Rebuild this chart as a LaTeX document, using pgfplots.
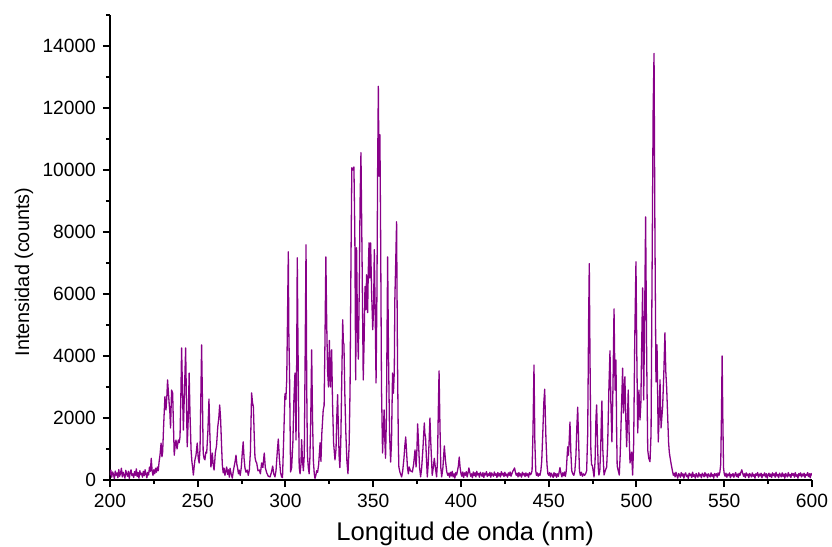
\documentclass[border=0pt]{standalone}
\usepackage{fontspec}
\setmainfont{Liberation Sans}
\usepackage{pgfplots}
\usepackage{pgfplotstable}
\pgfplotsset{compat=1.18}
\definecolor{spec}{RGB}{136,0,136}
\pgfplotstableread{
x y
200.0 150
200.5 320
201.0 90
201.5 260
202.0 180
202.5 40
203.0 290
203.5 150
204.0 230
204.5 70
205.0 340
205.5 120
206.0 210
206.5 380
207.0 100
207.5 250
208.0 160
208.5 60
209.0 310
209.5 190
210.0 120
210.5 280
211.0 50
211.5 230
212.0 330
212.5 140
213.0 200
213.5 80
214.0 270
214.5 150
215.0 360
215.5 110
216.0 240
216.5 60
217.0 300
217.5 170
218.0 220
218.5 90
219.0 280
219.5 140
220.0 330
220.5 190
221.0 70
221.5 250
222.0 160
222.5 420
223.0 280
223.5 700
224.0 300
224.5 150
225.0 330
225.5 200
226.0 380
226.5 250
227.0 420
227.5 300
228.0 600
228.5 800
229.1 1190
229.6 750
230.0 900
230.6 1800
231.3 2690
231.9 2260
232.4 2700
232.8 3230
233.2 2900
233.7 2480
234.1 2200
234.5 1680
235.1 2900
235.7 2800
236.1 1900
236.6 800
237.1 1100
237.6 1290
238.2 1000
238.9 1290
239.4 1200
239.9 1390
240.4 2800
240.8 4260
241.3 2900
241.8 1610
242.4 2800
243.1 4260
243.6 2400
244.0 1070
244.6 2000
245.1 3450
245.6 2100
246.2 970
246.7 580
247.1 400
247.5 160
248.0 450
248.4 650
249.0 800
249.7 1190
250.3 700
250.8 550
251.3 1000
251.8 2800
252.2 4360
252.7 2500
253.1 870
253.6 700
254.1 650
254.6 900
255.1 870
255.8 1600
256.4 2610
256.9 1500
257.5 420
257.9 600
258.3 870
258.8 500
259.3 320
259.7 600
260.0 870
260.7 1100
261.4 1710
262.0 2000
262.5 2420
263.0 2000
263.6 1070
264.0 500
264.5 230
265.0 380
265.5 150
266.0 300
266.5 420
267.0 180
267.5 330
268.0 90
268.4 380
269.0 200
269.7 60
270.3 300
270.8 450
271.3 600
271.8 800
272.3 500
272.7 390
273.2 200
273.6 320
274.2 150
274.8 400
275.4 900
275.9 1230
276.4 700
276.9 390
277.5 250
278.2 320
278.8 150
279.4 320
280.0 900
280.4 2000
280.7 2810
281.2 2500
281.7 2360
282.2 1400
282.6 740
283.1 600
283.6 550
284.3 300
285.1 320
285.7 200
286.4 550
287.1 400
287.9 870
288.5 400
289.3 230
290.2 120
291.2 100
292.0 250
292.7 450
293.3 200
294.0 100
294.6 300
295.3 900
295.9 1320
296.5 700
297.2 230
297.8 100
298.3 80
298.9 1200
299.7 2780
300.2 2600
300.7 3230
301.1 5000
301.6 7360
301.9 4750
302.3 3450
302.9 260
303.5 400
304.2 1200
304.8 2600
305.4 3450
306.0 1290
306.4 4000
306.7 7170
307.1 4500
307.8 420
308.3 200
308.8 500
309.2 1300
309.7 600
310.2 300
310.7 800
311.2 4000
311.7 7590
312.1 3000
312.5 800
313.0 400
313.5 200
313.9 700
314.4 2000
314.9 4200
315.4 2000
315.9 600
316.4 200
316.8 50
317.3 150
317.8 300
318.3 250
318.9 500
319.7 1200
320.2 600
320.7 1500
321.5 2260
322.0 2400
322.5 4500
323.0 7200
323.5 5000
324.0 3500
324.5 3000
325.0 4500
325.6 3000
326.3 4200
326.8 2500
327.4 1200
328.2 650
328.8 1000
329.2 2000
329.7 2750
330.2 1500
330.6 700
331.0 400
331.5 1200
332.0 3000
332.6 5170
333.0 4400
333.3 4400
333.8 2800
334.4 1500
335.0 600
335.6 200
335.8 480
336.3 1200
336.8 3000
337.3 7000
337.8 10070
338.4 10000
339.0 10100
339.5 8000
340.0 3230
340.5 7490
341.0 5000
341.5 3900
342.0 6000
342.5 9000
343.0 10560
343.6 7330
344.3 3230
344.8 4500
345.3 6240
345.8 5500
346.2 6620
346.8 5400
347.2 6800
347.6 7650
348.0 6520
348.5 7650
349.1 6000
349.7 4850
350.2 5500
350.6 7430
351.1 5500
351.6 3130
352.1 6000
352.5 10000
352.9 12700
353.3 9800
353.8 11140
354.2 8000
354.7 3000
355.3 870
355.7 1500
356.2 2260
356.6 1300
357.0 700
357.5 2000
357.9 5000
358.2 7200
358.7 4000
359.3 1500
359.9 580
360.4 1200
361.0 3450
361.5 2800
362.0 3500
362.3 5800
362.8 7000
363.3 8330
363.8 4000
364.3 1200
364.6 420
365.2 250
366.2 100
366.8 300
367.5 700
368.0 1100
368.5 1390
369.0 900
369.5 400
370.0 200
370.5 420
371.2 300
372.3 260
373.0 500
373.8 970
374.4 420
374.9 1000
375.3 1810
375.8 1200
376.4 400
377.0 100
377.6 400
378.3 1000
379.1 1840
379.4 1500
379.8 1390
380.3 700
380.8 100
381.3 500
381.8 1200
382.3 2000
382.8 1200
383.6 150
384.2 400
384.8 700
385.4 400
386.1 100
386.6 600
387.0 2000
387.5 3520
388.0 1800
388.5 400
389.0 100
389.7 400
390.5 1100
391.2 600
391.9 260
392.5 150
393.0 220
393.5 90
394.0 250
394.5 130
395.0 280
395.5 100
396.0 200
396.5 60
397.0 240
397.5 160
398.0 300
398.5 450
399.0 740
399.5 400
400.0 200
400.5 120
401.0 260
401.5 80
402.0 230
402.5 150
403.0 270
403.5 100
404.0 220
404.5 390
405.0 250
405.5 120
406.0 200
406.5 70
407.0 260
407.5 140
408.0 230
408.5 100
409.0 280
409.5 160
410.0 210
410.5 90
411.0 250
411.5 170
412.0 120
412.5 240
413.0 80
413.5 220
414.0 160
414.5 270
415.0 110
415.5 200
416.0 140
416.5 250
417.0 90
417.5 230
418.0 170
418.5 120
419.0 260
419.5 150
420.0 200
420.5 80
421.0 240
421.5 130
422.0 210
422.5 100
423.0 270
423.5 160
424.0 220
424.5 110
425.0 250
425.5 140
426.0 190
426.5 90
427.0 230
427.5 150
428.0 260
428.5 120
429.0 200
429.5 280
430.0 330
430.5 390
431.0 250
431.5 150
432.0 220
432.5 100
433.0 240
433.5 130
434.0 200
434.5 90
435.0 250
435.5 160
436.0 210
436.5 110
437.0 230
437.5 140
438.0 200
438.5 90
439.0 240
439.5 170
440.0 200
440.5 300
441.0 1500
441.6 3710
442.1 1200
442.6 300
443.0 150
443.5 230
444.0 120
444.5 200
445.0 150
445.5 300
446.0 600
446.6 1500
447.2 2500
447.7 2930
448.1 2000
448.4 1350
449.0 500
449.5 200
450.0 150
450.5 240
451.0 100
451.5 220
452.0 160
452.5 80
453.0 240
453.5 130
454.0 210
454.5 90
455.0 200
455.5 120
456.0 280
456.4 400
457.0 200
457.5 100
458.0 230
458.5 140
459.0 260
459.5 120
460.0 300
460.4 700
460.8 1070
461.2 800
461.6 1200
462.1 1870
462.6 900
463.1 300
463.7 200
464.3 150
464.9 300
465.5 800
466.0 1700
466.5 2350
467.0 1300
467.5 300
468.0 150
468.6 250
469.2 120
469.8 200
470.4 150
471.0 200
471.6 300
472.2 1500
472.7 5000
473.1 6980
473.5 4000
474.0 1000
474.4 480
474.8 480
475.3 300
475.8 100
476.4 600
476.9 2000
477.3 2420
477.8 1200
478.2 400
478.6 160
479.1 300
479.6 1000
480.0 2000
480.3 2550
480.8 1000
481.5 160
482.2 300
483.0 420
483.6 1200
484.3 3000
484.9 4170
485.4 2500
486.0 1230
486.6 3000
487.2 5520
487.8 2900
488.3 3870
488.7 1500
489.0 450
489.6 300
490.2 160
490.7 800
491.3 2000
492.1 3610
492.6 2160
493.4 3330
493.9 2000
494.4 1070
494.8 1800
495.3 2900
495.8 1500
496.3 550
496.8 700
497.2 900
497.8 160
498.4 1200
499.0 4500
499.7 7040
500.2 4000
500.7 1520
501.1 2300
501.4 2900
502.0 1940
502.5 2500
503.0 4500
503.5 6200
504.1 2580
504.6 5000
505.2 8490
505.8 4000
506.4 970
507.0 700
507.7 590
508.3 1500
508.8 6000
509.5 12000
510.0 13760
510.5 8000
511.1 3160
511.7 4360
512.4 1230
513.0 2200
513.4 3230
514.0 1680
514.9 2360
515.6 3500
516.2 4750
516.7 3500
517.2 2970
517.8 2000
518.3 1200
518.7 900
519.1 740
519.8 500
520.6 260
521.0 150
521.5 220
522.0 100
522.5 250
523.0 140
523.5 60
524.0 210
524.5 170
525.0 90
525.5 240
526.0 130
526.5 200
527.0 60
527.5 180
528.0 230
528.5 110
529.0 160
529.5 50
530.0 220
530.5 140
531.0 190
531.5 80
532.0 250
532.5 120
533.0 170
533.5 60
534.0 210
534.5 150
535.0 90
535.5 230
536.0 130
536.5 180
537.0 70
537.5 220
538.0 160
538.5 100
539.0 240
539.5 130
540.0 190
540.5 70
541.0 200
541.5 150
542.0 100
542.5 230
543.0 120
543.5 180
544.0 60
544.5 210
545.0 140
545.5 200
546.0 90
546.5 230
547.0 150
547.5 250
548.0 500
548.4 2000
548.8 4000
549.2 2000
549.6 400
550.0 200
550.5 120
551.0 220
551.5 90
552.0 190
552.5 140
553.0 230
553.5 70
554.0 180
554.5 130
555.0 210
555.5 90
556.0 170
556.5 240
557.0 110
557.5 190
558.0 80
558.5 220
559.0 150
559.5 250
560.0 330
560.5 220
561.0 120
561.5 200
562.0 80
562.5 230
563.0 140
563.5 190
564.0 70
564.5 210
565.0 160
565.5 100
566.0 230
566.5 120
567.0 180
567.5 60
568.0 200
568.5 150
569.0 240
569.5 90
570.0 190
570.5 130
571.0 220
571.5 70
572.0 180
572.5 140
573.0 230
573.5 100
574.0 200
574.5 60
575.0 170
575.5 220
576.0 110
576.5 190
577.0 80
577.5 230
578.0 140
578.5 200
579.0 90
579.5 250
580.0 130
580.5 180
581.0 70
581.5 220
582.0 160
582.5 100
583.0 230
583.5 120
584.0 190
584.5 60
585.0 210
585.5 150
586.0 100
586.5 240
587.0 130
587.5 180
588.0 80
588.5 220
589.0 150
589.5 200
590.0 90
590.5 240
591.0 120
591.5 170
592.0 60
592.5 210
593.0 140
593.5 230
594.0 100
594.5 190
595.0 130
595.5 220
596.0 80
596.5 180
597.0 150
597.5 240
598.0 110
598.5 200
599.0 70
599.5 210
600.0 150
}\spectrum
\begin{document}
\begin{tikzpicture}
\path[use as bounding box] (-55pt,-33.5pt) rectangle (361pt,240pt);
\begin{axis}[
  scale only axis, width=351pt, height=232.5pt,
  xmin=200, xmax=600, ymin=0, ymax=15000,
  axis x line*=bottom, axis y line*=left,
  axis line style={line width=1pt,-},
  xtick={200,250,...,600}, minor xtick={225,275,...,575},
  ytick={0,2000,...,14000}, minor ytick={1000,3000,...,15000},
  tick align=outside,
  major tick length=3.5pt, minor tick length=2pt,
  tick style={black, line width=1pt},
  tick label style={font=\fontsize{9.6}{11}\selectfont},
  /pgf/number format/assume math mode=true,
  /pgf/number format/set thousands separator={},
  scaled y ticks=false,
  xlabel={Longitud de onda (nm)},
  ylabel={Intensidad (counts)},
  xlabel style={font=\fontsize{12.8}{14}\selectfont, at={(axis description cs:0.506,-0.116)}, anchor=center},
  ylabel style={font=\fontsize{9.9}{11}\selectfont, at={(axis description cs:-0.1225,0.447)}, anchor=center},
]
\addplot[color=spec, line width=0.65pt, mark=none, line join=round] table[x=x, y=y] {\spectrum};
\end{axis}
\end{tikzpicture}
\end{document}
